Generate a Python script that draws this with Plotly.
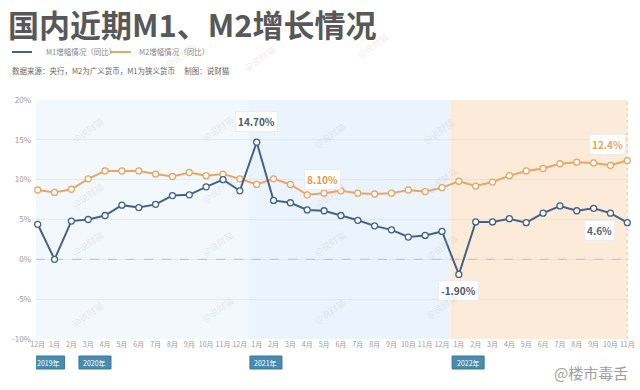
import plotly.graph_objects as go

months = ["12月", "1月", "2月", "3月", "4月", "5月", "6月", "7月", "8月", "9月", "10月", "11月",
          "12月", "1月", "2月", "3月", "4月", "5月", "6月", "7月", "8月", "9月", "10月", "11月",
          "12月", "1月", "2月", "3月", "4月", "5月", "6月", "7月", "8月", "9月", "10月", "11月"]
m1 = [4.4, 0.0, 4.8, 5.0, 5.5, 6.8, 6.5, 6.9, 8.0, 8.1, 9.1, 10.0,
      8.6, 14.7, 7.4, 7.1, 6.2, 6.1, 5.5, 4.9, 4.2, 3.7, 2.8, 3.0,
      3.5, -1.9, 4.7, 4.7, 5.1, 4.6, 5.8, 6.7, 6.1, 6.4, 5.8, 4.6]
m2 = [8.7, 8.4, 8.8, 10.1, 11.1, 11.1, 11.1, 10.7, 10.4, 10.9, 10.5, 10.7,
      10.1, 9.4, 10.1, 9.4, 8.1, 8.3, 8.6, 8.3, 8.2, 8.3, 8.7, 8.5,
      9.0, 9.8, 9.2, 9.7, 10.5, 11.1, 11.4, 12.0, 12.2, 12.1, 11.8, 12.4]
y_ticks = [-10, -5, 0, 5, 10, 15, 20]
y_tick_text = ["-10%", "-5%", "0%", "5%", "10%", "15%", "20%"]
years = ["2019年", "2020年", "2021年", "2022年"]
series_names = ["M1增幅情况（同比）", "M2增幅情况（同比）"]

x = list(range(len(months)))
C_M1 = "#43628a"
C_M2 = "#e9a566"
FONT = "Noto Sans CJK SC"

# plot area pixel geometry
L, R, T, B = 36, 11, 100, 51
PW, PH = 640 - L - R, 390 - T - B


def xp(px):
    return (px - L) / PW


def yp(py):
    return (390 - B - py) / PH


fig = go.Figure()
fig.add_trace(go.Scatter(x=x, y=m2, mode="lines+markers", name=series_names[1],
                         line=dict(color=C_M2, width=2),
                         marker=dict(symbol="circle", size=6, color="white",
                                     line=dict(color=C_M2, width=1.3)),
                         cliponaxis=False))
fig.add_trace(go.Scatter(x=x, y=m1, mode="lines+markers", name=series_names[0],
                         line=dict(color=C_M1, width=2),
                         marker=dict(symbol="circle", size=6, color="white",
                                     line=dict(color=C_M1, width=1.3)),
                         cliponaxis=False))

shapes = [
    dict(type="rect", xref="x", yref="paper", x0=-0.1, x1=12.5, y0=0, y1=1,
         fillcolor="#f3f8fd", line=dict(width=0), layer="below"),
    dict(type="rect", xref="x", yref="paper", x0=12.5, x1=24.5, y0=0, y1=1,
         fillcolor="#ebf4fc", line=dict(width=0), layer="below"),
    dict(type="rect", xref="x", yref="paper", x0=24.5, x1=35, y0=0, y1=1,
         fillcolor="#fdebd9", line=dict(width=0), layer="below"),
    dict(type="line", xref="x", yref="paper", x0=35, x1=35, y0=0, y1=1,
         line=dict(color="#e8c9a8", width=1, dash="dot"), layer="below"),
    dict(type="line", xref="paper", yref="y", x0=0, x1=1, y0=0, y1=0,
         line=dict(color="#b8aebd", width=1, dash="dash"), layer="below"),
    # legend samples
    dict(type="line", xref="paper", yref="paper", x0=xp(12), x1=xp(32), y0=yp(52), y1=yp(52),
         line=dict(color=C_M1, width=2)),
    dict(type="line", xref="paper", yref="paper", x0=xp(110), x1=xp(131), y0=yp(52), y1=yp(52),
         line=dict(color=C_M2, width=2)),
]

annotations = [
    dict(xref="paper", yref="paper", x=xp(44), y=yp(52), text=series_names[0], showarrow=False,
         xanchor="left", yanchor="middle", font=dict(size=7.5, color="#888", family=FONT)),
    dict(xref="paper", yref="paper", x=xp(137), y=yp(52), text=series_names[1], showarrow=False,
         xanchor="left", yanchor="middle", font=dict(size=7.5, color="#888", family=FONT)),
    dict(xref="paper", yref="paper", x=xp(10), y=yp(70),
         text="数据来源：央行，M2为广义货币，M1为狭义货币　 制图：说财猫", showarrow=False,
         xanchor="left", yanchor="middle", font=dict(size=7.5, color="#666", family=FONT)),
    dict(xref="paper", yref="paper", x=xp(630), y=yp(372), text="@楼市毒舌", showarrow=False,
         xanchor="right", yanchor="middle", font=dict(size=15, color="#a0a0a0", family=FONT)),
]

# value call-outs
def callout(i, series, txt, color, ax, ay):
    annotations.append(dict(x=i, y=series[i], xref="x", yref="y", text="<b>%s</b>" % txt,
                            showarrow=True, arrowcolor="rgba(0,0,0,0)", ax=ax, ay=ay,
                            bgcolor="rgba(255,255,255,0.95)", bordercolor="#ececec",
                            borderwidth=1, borderpad=2,
                            font=dict(size=10, color=color, family=FONT)))


callout(13, m1, "14.70%", "#4d5868", 0, -21)
callout(16, m2, "8.10%", "#e39a4f", 15, -15)
callout(35, m2, "12.4%", "#e6a56b", -20, -16)
callout(35, m1, "4.6%", "#4f6180", -28, 8)
callout(25, m1, "-1.90%", "#4d5868", 0, 16)

# year badges
for label, cx in zip(years, [0.65, 3.4, 13.55, 25.55]):
    shapes.append(dict(type="rect", xref="x", yref="paper", x0=cx - 0.95, x1=cx + 0.95,
                       y0=yp(369), y1=yp(356), fillcolor="#4a8cb0",
                       line=dict(color="#3a7598", width=1)))
    annotations.append(dict(xref="x", yref="paper", x=cx, y=yp(362.5), text=label,
                            showarrow=False, xanchor="center", yanchor="middle",
                            font=dict(size=7, color="white", family=FONT)))

# faint watermarks
for wx, wy in [(67, 112), (197, 110), (330, 117), (460, 113), (67, 177), (197, 172),
               (330, 177), (463, 180), (67, 262), (197, 262), (330, 262), (463, 247),
               (67, 333), (197, 328), (330, 330), (463, 325), (160, 37), (260, 40), (373, 27)]:
    annotations.append(dict(xref="paper", yref="paper", x=xp(wx), y=yp(wy), text="@说财猫",
                            showarrow=False, textangle=-35,
                            font=dict(size=9, color="rgba(170,170,170,0.22)", family=FONT)))

fig.update_layout(
    width=640, height=390,
    margin=dict(l=L, r=R, t=T, b=B, autoexpand=False),
    paper_bgcolor="white", plot_bgcolor="white",
    showlegend=False,
    title=dict(text="<b>国内近期M1、M2增长情况</b>", x=8 / 640, xanchor="left",
               y=1 - 26 / 390, yanchor="middle",
               font=dict(size=31, color="#585858", family=FONT)),
    xaxis=dict(range=[-0.1, 35.1], tickmode="array", tickvals=x, ticktext=months,
               showgrid=False, zeroline=False, showline=False, ticks="",
               tickangle=0, automargin=False,
               tickfont=dict(size=7, color="#999", family=FONT)),
    yaxis=dict(range=[-10, 20], tickmode="array", tickvals=y_ticks, ticktext=y_tick_text,
               showgrid=True, gridcolor="rgba(205,215,228,0.45)", gridwidth=1,
               zeroline=False, showline=False, ticks="", automargin=False,
               ticklabelstandoff=4,
               tickfont=dict(size=8, color="#999", family=FONT)),
    shapes=shapes,
    annotations=annotations,
)

fig.write_html("out.html", config={"displayModeBar": False},
               post_script="document.body.style.margin='0';document.body.style.padding='0';")
